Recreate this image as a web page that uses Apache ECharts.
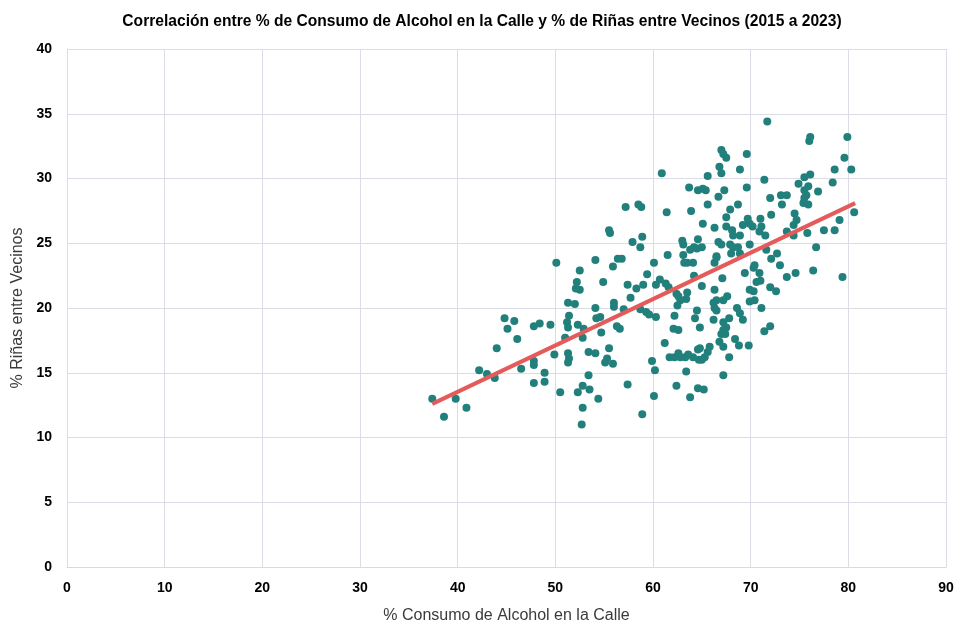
<!DOCTYPE html>
<html>
<head>
<meta charset="utf-8">
<script src="https://cdn.jsdelivr.net/npm/echarts@6/dist/echarts.min.js"></script>
<style>
  html, body { margin: 0; padding: 0; background: #fff; }
  #chart { width: 964px; height: 625px; }
</style>
</head>
<body>
<div id="chart"></div>
<script>
// % alcohol consumption in the street (x) vs % neighbour fights (y)
const alcohol = [
  37.4,38.6,39.8,40.9,42.2,43.0,43.8,44.0,44.8,45.1,45.8,46.1,46.5,47.8,48.4,49.5,47.8,47.8,47.8,48.9,48.9,49.9,50.1,50.5,51.0,51.3,52.0,52.5,52.2,52.1,52.5,51.4,51.2,51.3,52.3,52.9,52.8,51.3,51.4,51.3,53.4,53.4,52.8,52.3,53.5,52.8,52.7,
  60.9,57.2,58.5,58.8,61.4,63.7,63.9,64.6,55.5,55.6,57.9,58.9,58.7,63.0,63.1,63.8,64.5,64.6,61.5,63.1,54.1,56.4,56.8,55.9,60.1,63.2,63.5,64.2,59.4,54.9,57.4,58.3,59.0,60.3,60.7,61.3,61.6,57.7,62.4,62.6,62.8,63.5,63.4,62.5,54.1,56.0,56.0,57.0,58.7,
  54.2,54.6,54.7,56.3,56.6,59.3,59.6,60.3,54.1,55.5,55.1,55.3,55.9,61.2,59.9,60.2,61.7,62.2,62.6,62.8,63.3,63.6,64.1,64.7,64.6,63.4,57.4,54.4,60.1,58.9,62.4,63.8,62.2,62.1,62.6,64.3,64.5,64.6,
  71.7,76.0,76.1,79.9,79.6,80.3,78.6,78.4,67.0,67.2,67.5,69.6,66.8,67.0,68.9,65.6,65.1,65.4,67.3,69.6,71.4,66.7,65.6,67.9,68.7,72.0,73.1,73.7,73.2,74.9,75.5,76.1,75.9,75.5,75.7,75.5,75.4,75.9,76.9,80.6,79.1,78.6,77.5,76.7,75.8,74.5,74.7,74.4,74.4,73.7,72.1,71.0,65.1,66.3,67.5,67.5,68.1,68.2,68.9,69.7,69.9,70.2,69.2,71.1,70.9,71.5,65.0,64.2,66.7,67.0,67.9,68.2,68.7,68.9,68.0,69.9,66.5,71.6,72.7,
  76.4,79.4,73.7,74.6,73.0,72.1,70.4,70.3,70.9,69.4,67.1,66.3,66.5,64.1,70.6,71.0,69.9,70.3,72.0,72.6,69.9,70.4,71.1,72.0,71.4,65.0,66.3,67.6,67.2,66.5,66.2,66.3,66.5,68.6,68.9,69.2,66.2,67.2,67.8,64.8,67.2,67.5,67.4,67.0,68.4,68.8,69.8,66.8,67.2,65.8,65.6,65.3,65.0,64.8,67.8,67.2,65.2
];
const fights = [
  13.0,11.6,13.0,12.3,15.2,14.9,14.6,16.9,19.2,18.4,19.0,17.6,15.3,18.6,18.8,18.7,15.9,15.6,14.2,15.0,14.3,16.4,23.5,13.5,17.7,20.4,20.3,22.9,22.0,21.5,21.4,19.4,18.9,18.5,18.7,18.4,17.7,16.5,16.1,15.8,16.6,14.8,14.0,13.5,13.7,12.3,11.0,
  30.4,27.8,28.0,27.8,27.4,29.3,27.5,29.1,26.0,25.8,25.1,25.5,24.7,25.2,24.9,24.5,24.6,25.3,24.1,24.1,23.7,23.8,23.8,23.2,23.5,23.5,23.5,22.5,22.6,22.0,21.8,21.5,21.8,21.8,22.2,21.9,21.6,20.8,21.1,20.9,20.6,21.2,20.7,20.2,20.0,20.4,20.1,19.9,19.9,
  19.2,19.3,18.1,18.6,18.4,19.7,19.5,19.3,16.5,16.9,15.8,16.1,15.7,17.3,15.9,15.2,16.2,16.2,16.5,16.2,16.2,16.4,16.2,16.0,16.8,15.1,14.1,13.0,13.2,11.8,14.0,13.1,19.4,18.4,18.3,19.2,19.8,13.8,
  34.4,32.9,33.2,33.2,31.6,30.7,30.7,29.7,32.2,31.9,31.6,31.9,30.9,30.4,30.7,30.2,29.2,29.1,29.1,29.3,29.9,28.6,28.0,27.6,28.0,28.5,28.7,28.7,28.0,29.6,30.1,30.3,29.4,29.1,28.7,28.5,28.1,28.0,29.0,27.4,26.8,26.0,26.0,24.7,25.8,27.3,26.8,26.4,25.6,25.9,27.2,26.9,26.5,26.2,27.0,26.3,26.0,25.6,25.6,26.9,26.5,26.3,26.4,26.3,25.9,25.6,24.7,24.7,25.1,24.9,24.9,24.7,24.7,24.2,24.2,24.9,24.0,24.5,24.2,
  22.9,22.4,22.4,22.7,23.3,23.8,23.3,23.1,22.7,22.7,22.3,23.5,23.9,23.5,22.0,22.1,21.4,21.3,21.6,21.3,20.5,20.6,20.0,18.6,18.2,21.7,21.4,20.9,20.6,20.6,20.4,20.0,19.8,20.0,19.6,19.1,19.1,18.9,19.2,18.5,18.3,18.5,18.0,18.0,17.6,17.1,17.1,17.4,17.0,17.0,16.6,16.2,16.0,16.9,16.2,14.8,13.7
];
// linear trend line end points
const trendX = [37.4, 80.7];
const trendY = [12.6, 28.1];

const xTicks = [0, 10, 20, 30, 40, 50, 60, 70, 80, 90];
const yTicks = [0, 5, 10, 15, 20, 25, 30, 35, 40];

const points = alcohol.map((x, i) => [x, fights[i]]);
const trend = trendX.map((x, i) => [x, trendY[i]]);

const FONT = "'Liberation Sans', Arial, sans-serif";
const chart = echarts.init(document.getElementById('chart'));
chart.setOption({
  animation: false,
  backgroundColor: '#ffffff',
  title: {
    text: 'Correlación entre % de Consumo de Alcohol en la Calle y % de Riñas entre Vecinos (2015 a 2023)',
    left: 'center',
    top: 9,
    textStyle: { fontFamily: FONT, fontSize: 15.6, fontWeight: 'bold', color: '#000' }
  },
  grid: { left: 67, right: 18, top: 49, bottom: 58, containLabel: false, outerBoundsMode: 'none' },
  xAxis: {
    type: 'value',
    min: xTicks[0], max: xTicks[xTicks.length - 1], interval: 10,
    name: '% Consumo de Alcohol en la Calle',
    nameLocation: 'middle', nameGap: 41,
    nameTextStyle: { fontFamily: FONT, fontSize: 16, color: '#3a3a3a' },
    axisLine: { show: true, lineStyle: { color: '#D9D9E3' } },
    axisTick: { show: false },
    axisLabel: { fontFamily: FONT, fontSize: 14, fontWeight: 'bold', color: '#000', margin: 14 },
    splitLine: { show: true, lineStyle: { color: '#DCDCE6', width: 1 } }
  },
  yAxis: {
    type: 'value',
    min: yTicks[0], max: yTicks[yTicks.length - 1], interval: 5,
    name: '% Riñas entre Vecinos',
    nameLocation: 'middle', nameGap: 35,
    nameTextStyle: { fontFamily: FONT, fontSize: 16, color: '#3a3a3a' },
    axisLine: { show: true, lineStyle: { color: '#DCDCE6' } },
    axisTick: { show: false },
    axisLabel: { fontFamily: FONT, fontSize: 14, fontWeight: 'bold', color: '#000', margin: 15 },
    splitLine: { show: true, lineStyle: { color: '#DCDCE6', width: 1 } }
  },
  series: [
    {
      type: 'scatter',
      data: points,
      symbolSize: 8,
      itemStyle: { color: '#22807C', opacity: 1 },
      z: 2
    },
    {
      type: 'line',
      data: trend,
      symbol: 'none',
      lineStyle: { color: '#E35B5B', width: 4 },
      z: 3
    }
  ]
});
</script>
</body>
</html>
